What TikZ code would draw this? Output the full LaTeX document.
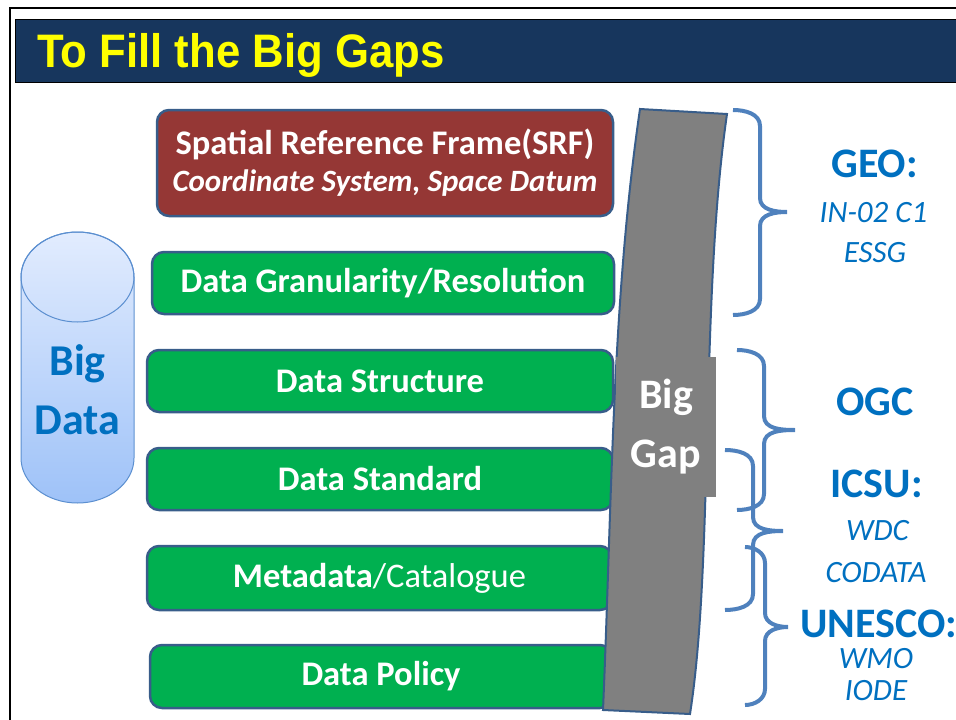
\documentclass[tikz,border=0pt]{standalone}
\usepackage{fontspec}
\setmainfont{Carlito}
\newfontfamily\titlefont[FakeStretch=0.93]{Liberation Sans}

\definecolor{titlebg}{HTML}{17365D}
\definecolor{titleyellow}{HTML}{FFFF00}
\definecolor{srfred}{HTML}{953735}
\definecolor{boxgreen}{HTML}{00B050}
\definecolor{boxline}{HTML}{385D8A}
\definecolor{gapgray}{HTML}{808080}
\definecolor{bracecol}{HTML}{4F81BD}
\definecolor{labelblue}{HTML}{0070C0}
\definecolor{cyltop}{HTML}{E2ECFE}
\definecolor{cylbottom}{HTML}{9EC2F8}
\definecolor{cylline}{HTML}{5B8FD0}

\begin{document}
\begin{tikzpicture}[x=1pt,y=-1pt,
	gapbox/.style={draw=boxline,line width=2.5pt,rounded corners=12pt,fill=boxgreen,
		text=white,inner sep=0pt,align=center,font=\fontsize{34.5}{37}\selectfont\bfseries},
	gapbrace/.style={draw=bracecol,line width=4pt},
	orgname/.style={anchor=base,inner sep=0pt,text=labelblue,font=\fontsize{42}{42}\selectfont\bfseries},
	orgitem/.style={anchor=base,inner sep=0pt,text=labelblue,font=\fontsize{31}{31}\selectfont\itshape}]
	\useasboundingbox (0,0) rectangle (956,720);

	% frame and title bar
	\draw[line width=2pt] (10,720) -- (10,8) -- (957,8);
	\draw[fill=titlebg,line width=1pt] (15,19) rectangle (958,82);
	\node[anchor=base west,inner sep=0pt,text=titleyellow,
		font=\titlefont\fontsize{47}{47}\selectfont\bfseries] (title) at (37,67) {To Fill the Big Gaps};

	% big data cylinder
	\draw[draw=cylline,line width=1pt,top color=cyltop,bottom color=cylbottom]
		(21,277) -- (21,458) arc[start angle=180,end angle=360,x radius=56.5pt,y radius=45pt]
		-- (134,277) arc[start angle=0,end angle=180,x radius=56.5pt,y radius=45pt] -- cycle;
	\draw[draw=cylline,line width=1pt] (77.5,277) ellipse[x radius=56.5pt,y radius=45pt];
	\node[align=center,text=labelblue,font=\fontsize{44}{59}\selectfont\bfseries] (bigdata) at (77.5,390) {Big\\Data};

	% the six boxes
	\node[gapbox,fill=srfred,minimum width=456pt,minimum height=106pt] (srf) at (385,163)
		{Spatial Reference Frame(SRF)\\\fontsize{31}{31}\selectfont\textit{Coordinate System, Space Datum}};
	\node[gapbox,minimum width=462pt,minimum height=62pt] (granularity) at (383,283) {Data Granularity/Resolution};
	\node[gapbox,minimum width=466pt,minimum height=62pt] (structure) at (380,381) {Data Structure};
	\node[gapbox,minimum width=466pt,minimum height=62pt] (standard) at (380,479) {Data Standard};
	\node[gapbox,minimum width=465pt,minimum height=64pt] (metadata) at (379.5,578) {Metadata\mdseries/Catalogue};
	\node[gapbox,minimum width=462pt,minimum height=63pt] (policy) at (381,676.5) {Data Policy};

	% the gap band
	\draw[draw=boxline,line width=2pt,fill=gapgray]
		(640,109) -- (727,114) .. controls (700,300) and (714,560) .. (690,714)
		-- (603,710) .. controls (612,500) and (612,300) .. (640,109) -- cycle;
	\node[fill=gapgray,minimum width=100pt,minimum height=140pt,inner sep=0pt,align=center,
		text=white,font=\fontsize{42}{59}\selectfont\bfseries] (gaplabel) at (666,427) {Big\\Gap};

	% braces
	\draw[gapbrace] (733,110) to[out=0,in=90] (760,126) -- (760,198) to[out=-90,in=180] (787,212)
		to[out=180,in=90] (760,226) -- (760,299) to[out=-90,in=0] (733,315);
	\draw[gapbrace] (737,350) to[out=0,in=90] (764,366) -- (764,416) to[out=-90,in=180] (795,430)
		to[out=180,in=90] (764,444) -- (764,494) to[out=-90,in=0] (737,510);
	\draw[gapbrace] (725,450) to[out=0,in=90] (753,466) -- (753,517) to[out=-90,in=180] (783,531)
		to[out=180,in=90] (753,545) -- (753,594) to[out=-90,in=0] (725,610);
	\draw[gapbrace] (745,547) to[out=0,in=90] (765,563) -- (765,613) to[out=-90,in=180] (788,627)
		to[out=180,in=90] (765,641) -- (765,689) to[out=-90,in=0] (745,705);

	% organisations
	\node[orgname] (geo) at (874.5,177) {GEO:};
	\node[orgitem] (geoin) at (873.5,222) {IN-02 C1};
	\node[orgitem] (essg) at (875,262) {ESSG};
	\node[orgname] (ogc) at (875,415) {OGC};
	\node[orgname] (icsu) at (876.5,497) {ICSU:};
	\node[orgitem] (wdc) at (877.5,540) {WDC};
	\node[orgitem] (codata) at (876,582) {CODATA};
	\node[orgname] (unesco) at (878.5,637) {UNESCO:};
	\node[orgitem] (wmo) at (876,668) {WMO};
	\node[orgitem] (iode) at (876,700) {IODE};
\end{tikzpicture}
\end{document}
